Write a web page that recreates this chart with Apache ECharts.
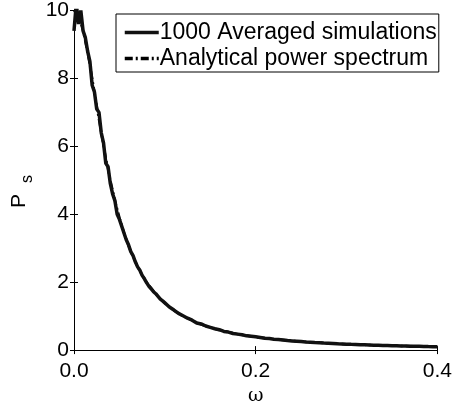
<!DOCTYPE html>
<html>
<head>
<meta charset="utf-8">
<script src="https://cdn.jsdelivr.net/npm/echarts@6/dist/echarts.min.js"></script>
<style>
html,body{margin:0;padding:0;background:#fff;}
#c{width:455px;height:411px;}
</style>
</head>
<body>
<div id="c"></div>
<script>
// Data
const seriesNames = ['1000 Averaged simulations', 'Analytical power spectrum'];
const xTicks = ['0.0', '0.2', '0.4'];
const yTicks = [0, 2, 4, 6, 8, 10];

const simOmega = [0,0.0025,0.005,0.0075,0.01,0.0125,0.015,0.0175,0.02,0.0225,0.025,0.0275,0.03,0.0325,0.035,0.0375,0.04,0.0425,0.045,0.0475,0.05,0.0525,0.055,0.0575,0.06,0.0625,0.065,0.0675,0.07,0.0725,0.075,0.0775,0.08,0.0825,0.085,0.0875,0.09,0.0925,0.095,0.0975,0.1,
0.105,0.11,0.115,0.12,0.125,0.13,0.135,0.14,0.145,0.15,0.155,0.16,0.165,0.17,0.175,0.18,0.185,0.19,0.195,0.2,0.205,0.21,0.215,0.22,0.225,0.23,0.235,0.24,0.245,0.25,0.255,0.26,0.265,0.27,0.275,0.28,0.285,0.29,0.295,0.3,0.305,0.31,0.315,0.32,0.325,0.33,0.335,0.34,0.345,0.35,0.355,0.36,0.365,0.37,0.375,0.38,0.385,0.39,0.395,0.4];
const simPower = [9.4,10.2,9.6,10.0,9.4,9.2,8.8,8.5,7.8,7.6,7.1,7.0,6.4,6.1,5.5,5.4,4.9,4.6,4.4,4.0,3.85,3.65,3.45,3.25,3.1,2.9,2.78,2.6,2.45,2.35,2.2,2.1,1.98,1.88,1.80,1.72,1.66,1.58,1.50,1.45,1.39,
1.27,1.18,1.08,1.01,0.94,0.88,0.80,0.77,0.71,0.67,0.63,0.60,0.55,0.53,0.49,0.47,0.45,0.42,0.41,0.39,0.37,0.35,0.34,0.32,0.31,0.295,0.28,0.27,0.26,0.25,0.24,0.232,0.222,0.215,0.207,0.20,0.193,0.186,0.181,0.175,0.169,0.165,0.159,0.155,0.150,0.145,0.141,0.137,0.133,0.129,0.126,0.122,0.119,0.116,0.113,0.110,0.107,0.104,0.102,0.099];

const anaOmega = [0,0.005,0.01,0.015,0.02,0.025,0.03,0.035,0.04,0.045,0.05,0.055,0.06,0.065,0.07,0.075,0.08,0.09,0.1,0.11,0.12,0.14,0.16,0.18,0.2,0.22,0.24,0.26,0.28,0.3,0.32,0.34,0.36,0.38,0.4];
const anaPower = [10,9.85,9.41,8.77,8.00,7.19,6.40,5.66,5.00,4.41,3.90,3.46,3.08,2.75,2.46,2.21,2.00,1.65,1.38,1.17,1.00,0.755,0.588,0.471,0.385,0.32,0.270,0.231,0.200,0.175,0.154,0.137,0.122,0.110,0.099];

const pair = (xs, ys) => xs.map((x, i) => [x, ys[i]]);
const FONT = '"Liberation Sans", Arial, Helvetica, sans-serif';

const chart = echarts.init(document.getElementById('c'), null, {renderer: 'canvas'});
const axisCommon = {
  axisLine: {show: true, lineStyle: {color: '#000', width: 1}},
  axisTick: {show: true, inside: true, length: 4, lineStyle: {color: '#000'}},
  splitLine: {show: false}
};
chart.setOption({
  animation: false,
  backgroundColor: '#fff',
  color: ['#000', '#000'],
  grid: {left: 74, right: 17, top: 9, bottom: 53, containLabel: false},
  xAxis: [
    Object.assign({
      type: 'value', min: 0, max: 0.4, interval: 0.2, position: 'bottom',
      name: 'ω', nameLocation: 'middle', nameGap: 28,
      nameTextStyle: {fontFamily: '"DejaVu Serif", serif', fontSize: 19, color: '#000'},
      axisLabel: {margin: 11, fontFamily: FONT, fontSize: 21, color: '#000',
        formatter: v => xTicks[Math.round(v / 0.2)] }
    }, axisCommon),
    Object.assign({
      type: 'value', min: 0, max: 0.4, interval: 0.2, position: 'top',
      axisLabel: {show: false}
    }, axisCommon)
  ],
  yAxis: [
    Object.assign({
      type: 'value', min: 0, max: 10, interval: 2, position: 'left',
      axisLabel: {margin: 5, fontFamily: FONT, fontSize: 21, color: '#000',
        formatter: v => String(yTicks[Math.round(v / 2)]) }
    }, axisCommon),
    Object.assign({
      type: 'value', min: 0, max: 10, interval: 2, position: 'right',
      axisLabel: {show: false}
    }, axisCommon)
  ],
  legend: {
    orient: 'vertical', left: 116, top: 14,
    width: 318,
    padding: [7, 2, 2, 7],
    itemGap: 3,
    itemWidth: 34, itemHeight: 14,
    borderColor: '#000', borderWidth: 1, backgroundColor: '#fff',
    itemStyle: {opacity: 0},
    lineStyle: {width: 3.5},
    textStyle: {fontFamily: FONT, fontSize: 23, color: '#000', padding: [0, 0, 0, -4]},
    data: seriesNames
  },
  graphic: [
    {type: 'text', left: 9, top: 194, rotation: Math.PI / 2,
      style: {text: 'P', font: '21px ' + FONT, fill: '#000'}},
    {type: 'text', left: 20, top: 175, rotation: Math.PI / 2,
      style: {text: 's', font: '16px ' + FONT, fill: '#000'}}
  ],
  series: [
    {name: seriesNames[1], type: 'line', data: pair(anaOmega, anaPower), showSymbol: false, symbol: 'none',
      itemStyle: {color: '#000'},
      clip: true, lineStyle: {color: '#000', width: 2.5, type: [8, 3, 2, 3]}, z: 2},
    {name: seriesNames[0], type: 'line', data: pair(simOmega, simPower), showSymbol: false, symbol: 'none',
      itemStyle: {color: '#000'},
      clip: true, lineStyle: {color: '#111', width: 3.5, type: 'solid'}, z: 3}
  ]
});
</script>
</body>
</html>
